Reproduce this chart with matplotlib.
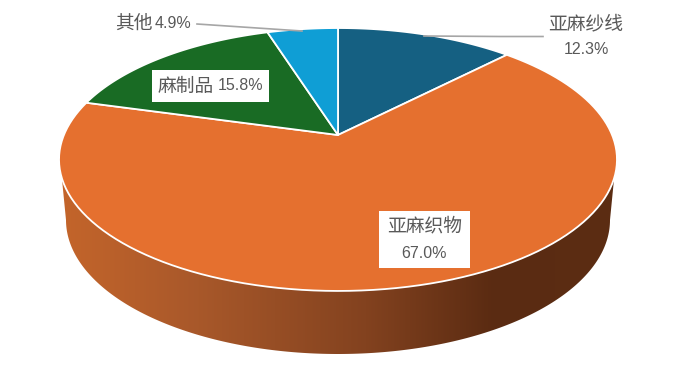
import numpy as np
import matplotlib.pyplot as plt
from matplotlib.patches import Polygon
from matplotlib.colors import LinearSegmentedColormap

plt.rcParams['font.family'] = ['Noto Sans CJK SC', 'DejaVu Sans']

labels = ['亚麻纱线', '亚麻织物', '麻制品', '其他']
values = [12.3, 67.0, 15.8, 4.9]
colors = ['#156082', '#E5702F', '#196B24', '#0F9ED5']

# pie geometry in pixels, the top face is drawn in perspective
cx, cy = 338.0, 135.0
k = 0.1863
ax_y, ax_x = 126.9, 274.1

def project(theta):
    # theta clockwise from the top of the pie, in radians
    x = np.sin(theta)
    y = np.cos(theta)
    den = 1 + k*y
    return cx + ax_x*x/den, cy - ax_y*y/den

fig = plt.figure(figsize=(6.77, 3.86), dpi=100)
ax = fig.add_axes([0, 0, 1, 1])
ax.set_xlim(0, 677)
ax.set_ylim(386, 0)
ax.axis('off')

# side wall with the left to right gradient
t_low = np.radians(np.linspace(0, 180, 200))
x_low = 338 - 272*np.cos(t_low)
y_low = 220 + 134*np.sin(t_low)
t_top = np.radians(np.linspace(60, 300, 400))
x_top, y_top = project(t_top)
keep = y_top >= 178
wall = np.column_stack([np.r_[x_low, x_top[keep]], np.r_[y_low, y_top[keep]]])
wall_patch = Polygon(wall, closed=True, fc='none', ec='none')
ax.add_patch(wall_patch)
cmap = LinearSegmentedColormap.from_list('wall', [(0, '#C4652B'), (0.25, '#A8582A'), (0.55, '#83421F'),
                                                  (0.78, '#5A2B12'), (1, '#5C2D13')])
grad = ax.imshow(np.linspace(0, 1, 256).reshape(1, -1), cmap=cmap, aspect='auto',
                 extent=[59, 617, 360, 150], zorder=1)
grad.set_clip_path(wall_patch)
ax.set_xlim(0, 677)
ax.set_ylim(386, 0)

# top face
start = 0.0
for val, col in zip(values, colors):
    t = np.radians(np.linspace(start, start + val*3.6, 120))
    xs, ys = project(t)
    pts = np.column_stack([np.r_[cx, xs], np.r_[cy, ys]])
    ax.add_patch(Polygon(pts, closed=True, fc=col, ec='white', lw=1.3, joinstyle='round', zorder=2))
    start += val*3.6

# leader lines
ax.plot([424, 500, 543], [36, 36.5, 36.5], color='#A6A6A6', lw=1.2, zorder=3)
ax.plot([197, 302], [24, 31], color='#A6A6A6', lw=1.2, zorder=3)

txt = '#595959'
num = dict(family=['Liberation Sans', 'DejaVu Sans'], fontsize=11.5, color=txt, zorder=6)
cjk = dict(fontsize=13.5, color=txt, fontweight='light', zorder=6)

ax.text(586, 24, labels[0], ha='center', va='center', **cjk)
ax.text(586, 50, '%.1f%%' % values[0], ha='center', va='center', **num)

ax.add_patch(plt.Rectangle((379, 211), 91, 57, fc='white', ec='none', zorder=5))
ax.text(424.5, 226, labels[1], ha='center', va='center', **cjk)
ax.text(424.5, 253, '%.1f%%' % values[1], ha='center', va='center', **num)

ax.add_patch(plt.Rectangle((152, 70), 117, 32, fc='white', ec='none', zorder=5))
ax.text(158, 86, labels[2], ha='left', va='center', **cjk)
ax.text(263, 86, '%.1f%%' % values[2], ha='right', va='center', **num)

ax.text(115, 23, labels[3], ha='left', va='center', **cjk)
ax.text(191, 23, '%.1f%%' % values[3], ha='right', va='center', **num)

fig.savefig('out.png', dpi=100)
